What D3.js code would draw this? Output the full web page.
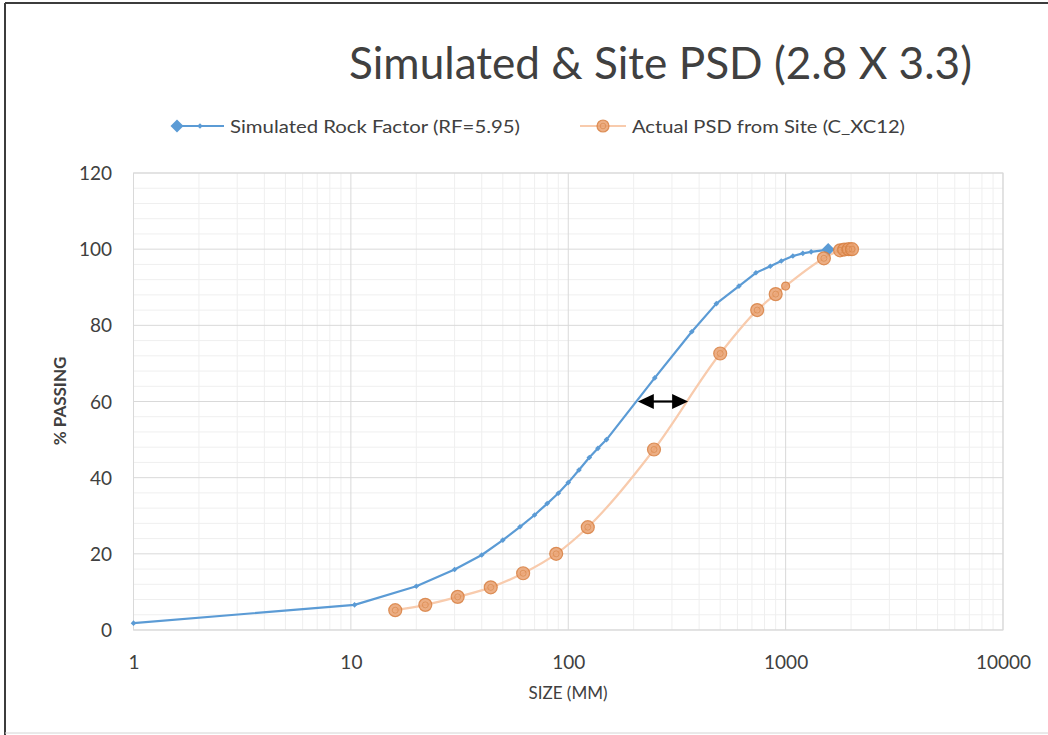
<!DOCTYPE html>
<html>
<head>
<meta charset="utf-8">
<script src="https://cdn.jsdelivr.net/npm/d3@7/dist/d3.min.js"></script>
<style>
  html, body { margin: 0; padding: 0; background: #fff; }
  svg { display: block; }
  text { font-family: Lato, "Open Sans", sans-serif; fill: #404040; }
</style>
</head>
<body>
<svg id="chart" width="1048" height="735"></svg>
<script>
// ---- data ----
const chartTitle = "Simulated & Site PSD (2.8 X 3.3)";
const simName = "Simulated Rock Factor (RF=5.95)";
const siteName = "Actual PSD from Site (C_XC12)";
const xAxisTitle = "SIZE (MM)";
const yAxisTitle = "% PASSING";

const simSize = [1, 10.4, 20, 30, 40, 50, 60, 70, 80, 90, 100, 112, 125, 137, 150, 250, 370, 480, 610, 730, 850, 955, 1080, 1200, 1310, 1570];
const simPassing = [1.8, 6.6, 11.5, 15.9, 19.7, 23.6, 27.1, 30.2, 33.2, 35.9, 38.7, 42.0, 45.3, 47.7, 50.0, 66.2, 78.3, 85.7, 90.3, 93.8, 95.5, 96.9, 98.2, 98.9, 99.3, 99.9];

const siteSize = [16, 22, 31, 44, 62, 88, 123, 248, 500, 740, 900, 1000, 1500, 1780, 1860, 1950, 2020];
const sitePassing = [5.2, 6.6, 8.7, 11.2, 14.9, 20.0, 27.0, 47.4, 72.6, 84.0, 88.2, 90.3, 97.6, 99.7, 99.9, 100, 100];
const siteSmallMarkerSize = [1000];

const arrowFrom = 209, arrowTo = 356, arrowAt = 60;

const xTickValues = [1, 10, 100, 1000, 10000];
const xTickLabels = ["1", "10", "100", "1000", "10000"];
const yTickValues = [0, 20, 40, 60, 80, 100, 120];
const yTickLabels = ["0", "20", "40", "60", "80", "100", "120"];

// ---- layout ----
const svg = d3.select("#chart");
const L = 133.5, R = 1003, T = 173, B = 630;
const x = d3.scaleLog().domain([1, 10000]).range([L, R]);
const y = d3.scaleLinear().domain([0, 120]).range([B, T]);

// outer frame
svg.append("line").attr("x1", 5).attr("x2", 5).attr("y1", 3).attr("y2", 735).attr("stroke", "#3c3c3c").attr("stroke-width", 2);
svg.append("line").attr("x1", 5).attr("x2", 1048).attr("y1", 3).attr("y2", 3).attr("stroke", "#3c3c3c").attr("stroke-width", 2);
svg.append("line").attr("x1", 5).attr("x2", 1048).attr("y1", 733).attr("y2", 733).attr("stroke", "#d4d4d4").attr("stroke-width", 1);

// grid
const g = svg.append("g");
const minorX = [];
[1, 10, 100, 1000].forEach(d => { for (let k = 2; k <= 9; k++) minorX.push(d * k); });
const minorY = d3.range(0, 121, 4).filter(v => v % 20 !== 0);
g.selectAll(".mx").data(minorX).join("line").attr("class", "mx")
  .attr("x1", d => x(d)).attr("x2", d => x(d)).attr("y1", T).attr("y2", B)
  .attr("stroke", "#efefef").attr("stroke-width", 1);
g.selectAll(".my").data(minorY).join("line").attr("class", "my")
  .attr("x1", L).attr("x2", R).attr("y1", d => y(d)).attr("y2", d => y(d))
  .attr("stroke", "#efefef").attr("stroke-width", 1);
g.selectAll(".Mx").data(xTickValues).join("line").attr("class", "Mx")
  .attr("x1", d => x(d)).attr("x2", d => x(d)).attr("y1", T).attr("y2", B)
  .attr("stroke", "#d9d9d9").attr("stroke-width", 1);
g.selectAll(".My").data(yTickValues).join("line").attr("class", "My")
  .attr("x1", L).attr("x2", R).attr("y1", d => y(d)).attr("y2", d => y(d))
  .attr("stroke", "#d9d9d9").attr("stroke-width", 1);
g.append("rect").attr("x", L).attr("y", T).attr("width", R - L).attr("height", B - T)
  .attr("fill", "none").attr("stroke", "#d9d9d9");

// axes
const xAxis = d3.axisBottom(x).tickValues(xTickValues).tickSize(0).tickPadding(0)
  .tickFormat((d, i) => xTickLabels[i]);
const xg = svg.append("g").attr("transform", `translate(0,${B})`).call(xAxis);
xg.select(".domain").remove();
xg.selectAll("text").attr("dy", null).attr("y", 39).style("font-family", "Lato").style("font-size", "19px").attr("fill", "#404040");

const yAxis = d3.axisLeft(y).tickValues(yTickValues).tickSize(0).tickPadding(0)
  .tickFormat((d, i) => yTickLabels[i]);
const yg = svg.append("g").attr("transform", `translate(112,0)`).call(yAxis);
yg.select(".domain").remove();
yg.selectAll("text").attr("dy", "0.35em").attr("x", 0).style("font-family", "Lato").style("font-size", "19px").attr("fill", "#404040");

svg.append("text").attr("x", 568).attr("y", 699).attr("text-anchor", "middle")
  .style("font-size", "17px").attr("fill", "#404040").text(xAxisTitle);
svg.append("text").attr("transform", "translate(66,401) rotate(-90)").attr("text-anchor", "middle")
  .style("font-size", "17px").style("font-weight", "bold").attr("fill", "#404040").text(yAxisTitle);

// title
svg.append("text").attr("x", 349).attr("y", 79)
  .style("font-size", "44px").attr("fill", "#1a1a1a")
  .attr("textLength", 623).attr("lengthAdjust", "spacingAndGlyphs")
  .text(chartTitle);

// series
const blue = "#5b9bd5", peach = "#f8cbad", orangeFill = "#e9a06e", orangeStroke = "#d67c3c";
const simData = simSize.map((s, i) => ({ s, p: simPassing[i] }));
const siteData = siteSize.map((s, i) => ({ s, p: sitePassing[i] }));
const simLine = d3.line().x(d => x(d.s)).y(d => y(d.p)).curve(d3.curveLinear);
const siteLine = d3.line().x(d => x(d.s)).y(d => y(d.p)).curve(d3.curveMonotoneX);

svg.append("path").datum(siteData).attr("d", siteLine).attr("fill", "none")
  .attr("stroke", peach).attr("stroke-width", 2.2);

const diamond = (cx, cy, r) => `M${cx},${cy - r}L${cx + r},${cy}L${cx},${cy + r}L${cx - r},${cy}Z`;

svg.append("path").datum(simData).attr("d", simLine).attr("fill", "none")
  .attr("stroke", blue).attr("stroke-width", 2.2).attr("stroke-linejoin", "round");
svg.selectAll(".simpt").data(simData).join("path").attr("class", "simpt")
  .attr("d", (d, i) => diamond(x(d.s), y(d.p), i === simData.length - 1 ? 6.5 : 2.8))
  .attr("fill", blue);

const siteG = svg.append("g");
siteG.selectAll("circle.o").data(siteData).join("circle").attr("class", "o")
  .attr("cx", d => x(d.s)).attr("cy", d => y(d.p))
  .attr("r", d => siteSmallMarkerSize.includes(d.s) ? 4 : 6.5)
  .attr("fill", orangeFill).attr("fill-opacity", 0.85)
  .attr("stroke", orangeStroke).attr("stroke-width", 1.2).attr("stroke-opacity", 0.8);
siteG.selectAll("circle.i").data(siteData.filter(d => !siteSmallMarkerSize.includes(d.s))).join("circle").attr("class", "i")
  .attr("cx", d => x(d.s)).attr("cy", d => y(d.p)).attr("r", 3)
  .attr("fill", "none").attr("stroke", "#d8894d").attr("stroke-width", 1).attr("stroke-opacity", 0.7);

// arrow annotation
const ax1 = x(arrowFrom), ax2 = x(arrowTo), ay = y(arrowAt);
const head = 16, hh = 7.5;
svg.append("line").attr("x1", ax1 + head - 2).attr("x2", ax2 - head + 2).attr("y1", ay).attr("y2", ay)
  .attr("stroke", "#000").attr("stroke-width", 2.2);
svg.append("path").attr("d", `M${ax1},${ay}L${ax1 + head},${ay - hh}L${ax1 + head},${ay + hh}Z`).attr("fill", "#000");
svg.append("path").attr("d", `M${ax2},${ay}L${ax2 - head},${ay - hh}L${ax2 - head},${ay + hh}Z`).attr("fill", "#000");

// legend
const ly = 126;
svg.append("line").attr("x1", 172).attr("x2", 224).attr("y1", ly).attr("y2", ly).attr("stroke", blue).attr("stroke-width", 2.2);
svg.append("path").attr("d", diamond(177, ly, 6.5)).attr("fill", blue);
svg.append("path").attr("d", diamond(200, ly, 2.8)).attr("fill", blue);
svg.append("text").attr("x", 230).attr("y", ly + 6.5).style("font-size", "18px").attr("fill", "#404040")
  .attr("textLength", 290).attr("lengthAdjust", "spacingAndGlyphs").text(simName);

svg.append("line").attr("x1", 580).attr("x2", 626).attr("y1", ly).attr("y2", ly).attr("stroke", peach).attr("stroke-width", 2.2);
svg.append("circle").attr("cx", 603).attr("cy", ly).attr("r", 6).attr("fill", orangeFill).attr("fill-opacity", 0.85)
  .attr("stroke", orangeStroke).attr("stroke-width", 1.2).attr("stroke-opacity", 0.8);
svg.append("circle").attr("cx", 603).attr("cy", ly).attr("r", 2.8).attr("fill", "none").attr("stroke", "#d8894d").attr("stroke-width", 1).attr("stroke-opacity", 0.7);
svg.append("text").attr("x", 632).attr("y", ly + 6.5).style("font-size", "18px").attr("fill", "#404040")
  .attr("textLength", 273).attr("lengthAdjust", "spacingAndGlyphs").text(siteName);
</script>
</body>
</html>
